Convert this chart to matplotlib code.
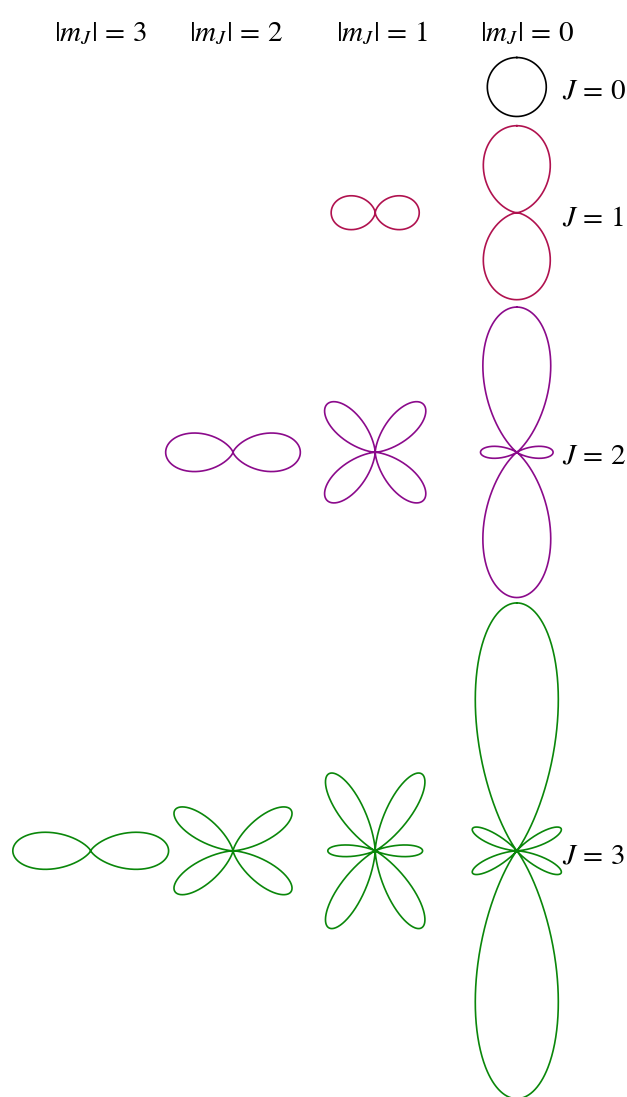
import numpy as np
import matplotlib
matplotlib.use("Agg")
import matplotlib.pyplot as plt
from numpy.polynomial import legendre as L

plt.rcParams['mathtext.fontset'] = 'stix'
plt.rcParams['font.family'] = ['STIXGeneral', 'Liberation Serif', 'DejaVu Serif']

# ---- data: peak angular probability density |Y_J^m|^2 ----
J_values = [0, 1, 1, 2, 2, 2, 3, 3, 3, 3]
m_values = [0, 0, 1, 0, 1, 2, 0, 1, 2, 3]
peak_density = [0.081, 0.239, 0.121, 0.399, 0.187, 0.185, 0.681, 0.247, 0.195, 0.214]

column_labels = [r'$|m_J|\,=\,3$', r'$|m_J|\,=\,2$', r'$|m_J|\,=\,1$', r'$|m_J|\,=\,0$']
row_labels = [r'$J\,=\,0$', r'$J\,=\,1$', r'$J\,=\,2$', r'$J\,=\,3$']
J_colors = {0: '#000000', 1: '#B0124F', 2: '#8B0A8B', 3: '#0A870A'}

# ---- layout (pixels) ----
W, H = 627, 1097
scale = 364.0                      # px per density unit
col_x = {3: 90.7, 2: 233.0, 1: 375.2, 0: 516.8}
row_y = {0: 87.0, 1: 212.7, 2: 452.3, 3: 850.8}

fig = plt.figure(figsize=(W / 100, H / 100), dpi=100)
ax = fig.add_axes([0, 0, 1, 1])
ax.set_xlim(0, W)
ax.set_ylim(H, 0)
ax.set_aspect('equal')
ax.axis('off')

theta = np.linspace(0, 2 * np.pi, 2000)
x = np.cos(theta)
for J, m, pk in zip(J_values, m_values, peak_density):
    c = np.zeros(J + 1); c[J] = 1
    dP = L.legval(x, L.legder(c, m)) if m > 0 else L.legval(x, c)
    P = (1 - x**2) ** (m / 2) * dP
    f = P**2
    r = pk * f / f.max() * scale
    px = col_x[m] + r * np.sin(theta)
    py = row_y[J] - r * np.cos(theta)
    ax.plot(px, py, color=J_colors[J], lw=1.2, solid_joinstyle='round')

head_x = [100, 236, 382, 527]
for lab, hx in zip(column_labels, head_x):
    ax.text(hx, 41, lab, fontsize=21, ha='center', va='baseline')

label_base = [98.3, 225.7, 464.0, 863.3]
for lab, by in zip(row_labels, label_base):
    ax.text(562, by, lab, fontsize=21, ha='left', va='baseline')

fig.savefig('out.png', dpi=100)
